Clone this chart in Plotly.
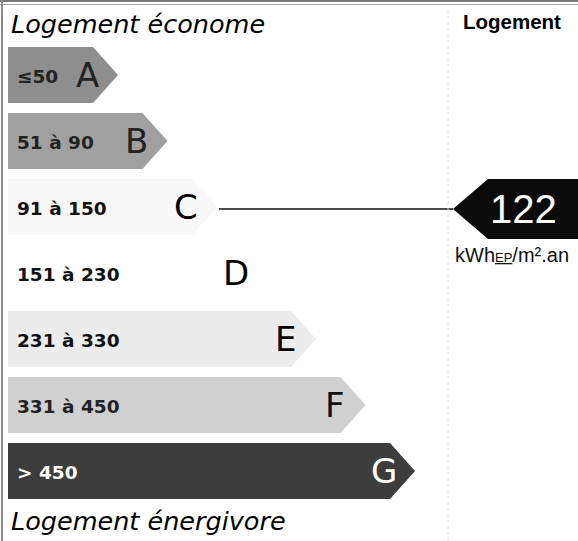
import plotly.graph_objects as go

# ---- data ----
classes = ["A", "B", "C", "D", "E", "F", "G"]
range_labels = ["≤50", "51 à 90", "91 à 150", "151 à 230", "231 à 330", "331 à 450", "> 450"]
upper_bounds = [50, 90, 150, 230, 330, 450, float("inf")]
bar_colors = ["#8e8e8e", "#a0a0a0", "#f8f8f8", "#fefefe", "#ececec", "#d0d0d0", "#3d3d3d"]
label_colors = ["#222222", "#222222", "#111111", "#111111", "#111111", "#222222", "#ffffff"]
letter_colors = ["#222222", "#222222", "#000000", "#000000", "#000000", "#111111", "#ffffff"]
value = 122
unit_html = "kWh<span style='font-size:13px'><u>EP</u></span>/m².an"
top_title = "Logement économe"
bottom_title = "Logement énergivore"
col_header = "Logement"

# ---- layout geometry ----
W, H = 578, 541
x0 = 8
row_top0, row_pitch, row_h = 47, 66.0, 56
tip0, tip_step, tip_depth = 118, 49.5, 25
font_main = "DejaVu Sans"

fig = go.Figure()

for i, (cls, lab, col) in enumerate(zip(classes, range_labels, bar_colors)):
    top = row_top0 + i * row_pitch
    bot = top + row_h
    mid = (top + bot) / 2
    tip = tip0 + i * tip_step
    body = tip - tip_depth
    fig.add_trace(go.Scatter(
        x=[x0, body, tip, body, x0, x0],
        y=[top, top, mid, bot, bot, top],
        fill="toself", fillcolor=col, mode="lines",
        line=dict(width=0, color=col), hoverinfo="skip", showlegend=False))
    fig.add_annotation(x=x0 + 7, y=mid + 1, text=f"<b>{lab}</b>", showarrow=False,
                       xanchor="left", yanchor="middle",
                       font=dict(family=font_main, size=18.5, color=label_colors[i]))
    fig.add_annotation(x=tip - 31, y=mid, text=cls, showarrow=False,
                       xanchor="center", yanchor="middle",
                       font=dict(family=font_main, size=34, color=letter_colors[i]))

# class of the value
k = next(i for i, ub in enumerate(upper_bounds) if value <= ub)
ktop = row_top0 + k * row_pitch
kmid = ktop + row_h / 2 + 2
ktip = tip0 + k * tip_step

# marker arrow
a_tip_x, a_body_x = 453, 488
a_top, a_bot = kmid - 30, kmid + 30
fig.add_trace(go.Scatter(
    x=[a_tip_x, a_body_x, W + 2, W + 2, a_body_x, a_tip_x],
    y=[kmid, a_top, a_top, a_bot, a_bot, kmid],
    fill="toself", fillcolor="#0a0a0a", mode="lines",
    line=dict(width=0, color="#0a0a0a"), hoverinfo="skip", showlegend=False))
fig.add_trace(go.Scatter(x=[ktip + 2, a_tip_x], y=[kmid, kmid], mode="lines",
                         line=dict(color="#111111", width=1.5), hoverinfo="skip", showlegend=False))
fig.add_annotation(x=523, y=kmid, text=str(value), showarrow=False,
                   xanchor="center", yanchor="middle",
                   font=dict(family="Liberation Sans", size=40, color="#ffffff"))
fig.add_annotation(x=512, y=a_bot + 16, text=unit_html, showarrow=False,
                   xanchor="center", yanchor="middle",
                   font=dict(family="Liberation Sans", size=20, color="#111111"))

# titles
fig.add_annotation(x=9, y=24, text=f"<i>{top_title}</i>", showarrow=False,
                   xanchor="left", yanchor="middle",
                   font=dict(family=font_main, size=25.5, color="#000000"))
fig.add_annotation(x=9, y=521, text=f"<i>{bottom_title}</i>", showarrow=False,
                   xanchor="left", yanchor="middle",
                   font=dict(family=font_main, size=25.5, color="#000000"))
fig.add_annotation(x=512, y=21, text=f"<b>{col_header}</b>", showarrow=False,
                   xanchor="center", yanchor="middle",
                   font=dict(family="Liberation Sans", size=20.5, color="#000000"))

# frame lines
shapes = [
    dict(type="line", x0=0, x1=W, y0=1, y1=1, line=dict(color="#7a7a7a", width=2)),
    dict(type="line", x0=0, x1=W, y0=4.5, y1=4.5, line=dict(color="#a8a8a8", width=1)),
    dict(type="line", x0=2, x1=2, y0=0, y1=H, line=dict(color="#8a8a8a", width=2)),
    dict(type="line", x0=448, x1=448, y0=10, y1=H, line=dict(color="#d8d8d8", width=1, dash="dot")),
]

fig.update_layout(
    width=W, height=H, margin=dict(l=0, r=0, t=0, b=0),
    paper_bgcolor="#ffffff", plot_bgcolor="#ffffff",
    xaxis=dict(range=[0, W], visible=False, fixedrange=True),
    yaxis=dict(range=[H, 0], visible=False, fixedrange=True),
    shapes=shapes, showlegend=False,
)

fig.write_html("out.html", config={"displayModeBar": False},
               post_script="document.body.style.margin='0';document.body.style.padding='0';document.body.style.overflow='hidden';")
